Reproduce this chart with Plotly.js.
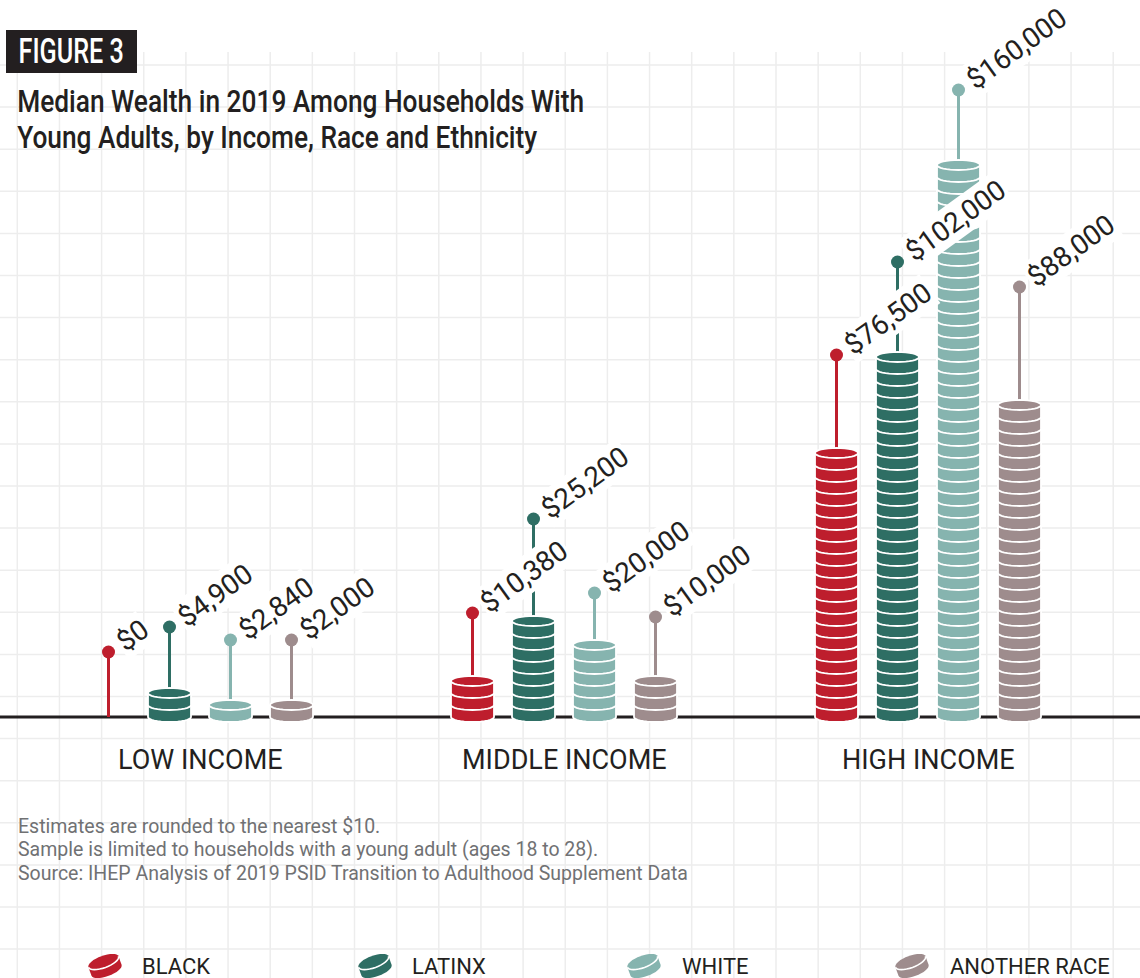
<!DOCTYPE html>
<html>
<head>
<meta charset="utf-8">
<script src="https://cdn.plot.ly/plotly-3.0.1.min.js"></script>
<style>
html, body { margin: 0; padding: 0; background: #ffffff; }
#chart { width: 1140px; height: 978px; }
</style>
</head>
<body>
<div id="chart"></div>
<script>
// ================= DATA =================
const incomeGroups = ["LOW INCOME", "MIDDLE INCOME", "HIGH INCOME"];
const races = ["BLACK", "LATINX", "WHITE", "ANOTHER RACE"];
const blackWealth = [0, 10380, 76500];
const latinxWealth = [4900, 25200, 102000];
const whiteWealth = [2840, 20000, 160000];
const anotherRaceWealth = [2000, 10000, 88000];
const figureTag = "FIGURE 3";
const titleLines = [
  "Median Wealth in 2019 Among Households With",
  "Young Adults, by Income, Race and Ethnicity"
];
const footnotes = [
  "Estimates are rounded to the nearest $10.",
  "Sample is limited to households with a young adult (ages 18 to 28).",
  "Source: IHEP Analysis of 2019 PSID Transition to Adulthood Supplement Data"
];

// ================= STYLE / LAYOUT =================
const seriesValues = [blackWealth, latinxWealth, whiteWealth, anotherRaceWealth];
const raceColors = ["#BE1E2D", "#2E6E64", "#86B4AF", "#9E8C8D"];
// lollipop lift above each stack, in pixels (race x group) - label placement only
const stemLiftPx = [[65, 68, 98], [66, 102, 95], [65, 52, 75], [65, 64, 118]];

const W = 1140, H = 978;
const BASE_PX = 717;            // pixel row of the baseline
const COIN_VALUE = 3500;        // dollars represented by one coin
const COIN_PX = 12;             // coin thickness in pixels
const dPerPx = COIN_VALUE / COIN_PX;
const yRange = [-(H - BASE_PX) * dPerPx, BASE_PX * dPerPx];
const GROUP_PX = 364, X0_PX = 200;
const xRange = [-X0_PX / GROUP_PX, (W - X0_PX) / GROUP_PX];
const uPerPx = 1 / GROUP_PX;
const RACE_STEP = 61 * uPerPx;
const COIN_RX = 21.5 * uPerPx;
const COIN_RY = 5 * dPerPx;

const INK = "#231F20";
const LABEL_FONT = "Roboto, 'Open Sans', 'DejaVu Sans', sans-serif";

const px2paperX = px => px / W;
const px2paperY = py => 1 - py / H;

function arcPts(cx, cy, rx, ry, t0, t1, n) {
  const pts = [];
  for (let i = 0; i <= n; i++) {
    const t = t0 + (t1 - t0) * i / n;
    pts.push([cx + rx * Math.cos(t), cy + ry * Math.sin(t)]);
  }
  return pts;
}
function toPath(pts, close) {
  return "M" + pts.map(p => p[0].toFixed(6) + "," + p[1].toFixed(3)).join("L") + (close ? "Z" : "");
}

const shapes = [];
const annotations = [];
const traces = [];
const condensed = [];   // [annotation index, x-scale, origin]

// ---- background grid (decorative) ----
const GRID = "#EDEDED";
for (let gx = 17.3; gx < W; gx += 42.15) {
  shapes.push({type: "line", xref: "paper", yref: "paper", x0: px2paperX(gx), x1: px2paperX(gx),
    y0: px2paperY(52), y1: 0, line: {color: GRID, width: 1.5}, layer: "below"});
}
for (let gy = 65; gy < H; gy += 42.1) {
  shapes.push({type: "line", xref: "paper", yref: "paper", x0: 0, x1: 1,
    y0: px2paperY(gy), y1: px2paperY(gy), line: {color: GRID, width: 1.5}, layer: "below"});
}

// ---- baseline ----
shapes.push({type: "line", xref: "paper", yref: "y", x0: 0, x1: 1, y0: 0, y1: 0,
  line: {color: INK, width: 3}, layer: "below"});

// ---- stacks, stems, dots, labels ----
const coinCount = v => Math.ceil(v / COIN_VALUE);

seriesValues.forEach((vals, ri) => {
  const color = raceColors[ri];
  const xs = incomeGroups.map((g, gi) => gi + (ri - 1.5) * RACE_STEP);
  const tops = vals.map(v => coinCount(v) * COIN_VALUE);
  const dots = tops.map((t, gi) => t + stemLiftPx[ri][gi] * dPerPx);

  // stack body as bars
  traces.push({
    type: "bar", name: races[ri], x: xs, y: tops, base: 0,
    width: COIN_RX * 2 * 0.88, marker: {color: color, line: {width: 0}},
    customdata: vals, hovertemplate: races[ri] + ": $%{customdata:,}<extra></extra>",
    showlegend: false
  });

  // stems
  const sx = [], sy = [];
  xs.forEach((x, gi) => { sx.push(x, x, null); sy.push(tops[gi], dots[gi], null); });
  traces.push({type: "scatter", mode: "lines", x: sx, y: sy, line: {color: color, width: 3},
    hoverinfo: "skip", showlegend: false});
  // dots
  traces.push({type: "scatter", mode: "markers", x: xs, y: dots,
    marker: {color: color, size: 13, line: {width: 0}}, customdata: vals,
    hovertemplate: races[ri] + ": $%{customdata:,}<extra></extra>", showlegend: false});

  // coins as shapes
  xs.forEach((cx, gi) => {
    const n = coinCount(vals[gi]);
    for (let c = 0; c < n; c++) {
      const yb = c * COIN_VALUE, yt = (c + 1) * COIN_VALUE;
      const pts = arcPts(cx, yt, COIN_RX, COIN_RY, Math.PI, 0, 16)
        .concat(arcPts(cx, yb, COIN_RX, COIN_RY, 0, -Math.PI, 16));
      shapes.push({type: "path", xref: "x", yref: "y", path: toPath(pts, true),
        fillcolor: color, line: {color: "#FFFFFF", width: 1.8}, layer: "above"});
      if (c === n - 1) {
        shapes.push({type: "path", xref: "x", yref: "y",
          path: toPath(arcPts(cx, yt, COIN_RX, COIN_RY, Math.PI, 2 * Math.PI, 16), false),
          fillcolor: "rgba(0,0,0,0)", line: {color: "#FFFFFF", width: 1.8}, layer: "above"});
      }
    }
    // value label
    annotations.push({
      x: cx, y: dots[gi], xref: "x", yref: "y", showarrow: false,
      text: "$" + vals[gi].toLocaleString("en-US"),
      textangle: -36, xanchor: "left", yanchor: "bottom", xshift: -1, yshift: -9,
      font: {family: LABEL_FONT, size: 28, color: INK}, bgcolor: "#FFFFFF", borderpad: 1
    });
  });
});

// ---- category labels ----
incomeGroups.forEach((g, gi) => {
  annotations.push({x: gi, y: px2paperY(760), xref: "x", yref: "paper", text: g, showarrow: false,
    xanchor: "center", yanchor: "middle", font: {family: LABEL_FONT, size: 27, color: INK}});
});

// ---- figure tag + title ----
shapes.push({type: "rect", xref: "paper", yref: "paper", x0: px2paperX(6), x1: px2paperX(137),
  y0: px2paperY(30), y1: px2paperY(73), fillcolor: INK, line: {width: 0}, layer: "above"});
condensed.push([annotations.length, 0.70, "center center"]);
annotations.push({x: px2paperX(71), y: px2paperY(51), xref: "paper", yref: "paper", text: figureTag,
  showarrow: false, xanchor: "center", yanchor: "middle",
  font: {family: LABEL_FONT, size: 36, weight: 500, color: "#FFFFFF"}});
titleLines.forEach((t, i) => {
  condensed.push([annotations.length, 0.835, "left center"]);
  annotations.push({x: px2paperX(15), y: px2paperY(101 + i * 36.5), xref: "paper", yref: "paper", text: t,
    showarrow: false, xanchor: "left", yanchor: "middle",
    font: {family: LABEL_FONT, size: 31.5, weight: 500, color: INK}});
});

// ---- footnotes ----
footnotes.forEach((t, i) => {
  annotations.push({x: px2paperX(16), y: px2paperY(826 + i * 23.5), xref: "paper", yref: "paper", text: t,
    showarrow: false, xanchor: "left", yanchor: "middle", font: {family: LABEL_FONT, size: 19.5, color: "#707173"}});
});

// ---- custom legend (coin icons) ----
const legendIconX = [105, 375, 644, 912];
const legendTextX = [140, 410, 680, 948];
const LEG_Y = 966;
function rotPts(pts, cx, cy, deg) {
  const a = deg * Math.PI / 180, c = Math.cos(a), s = Math.sin(a);
  return pts.map(p => [cx + p[0] * c - p[1] * s, cy + p[0] * s + p[1] * c]);
}
function paperPath(pts, close) {
  return "M" + pts.map(p => px2paperX(p[0]).toFixed(5) + "," + px2paperY(p[1]).toFixed(5)).join("L") + (close ? "Z" : "");
}
races.forEach((r, ri) => {
  const rx = 16, ry = 6, t = 9;
  const top = [], bot = [], front = [];
  for (let i = 0; i <= 16; i++) {
    const a = Math.PI - Math.PI * i / 16;
    top.push([rx * Math.cos(a), -t / 2 - ry * Math.sin(a)]);
  }
  for (let i = 0; i <= 16; i++) {
    const a = Math.PI * i / 16;
    bot.push([rx * Math.cos(a), t / 2 + ry * Math.sin(a)]);
    front.push([-rx * Math.cos(a), -t / 2 + ry * Math.sin(a)]);
  }
  const body = rotPts(top.concat(bot), legendIconX[ri], LEG_Y, -20);
  shapes.push({type: "path", xref: "paper", yref: "paper", path: paperPath(body, true),
    fillcolor: raceColors[ri], line: {width: 0}, layer: "above"});
  shapes.push({type: "path", xref: "paper", yref: "paper",
    path: paperPath(rotPts(front, legendIconX[ri], LEG_Y, -20), false),
    fillcolor: "rgba(0,0,0,0)", line: {color: "#FFFFFF", width: 1.6}, layer: "above"});
  annotations.push({x: px2paperX(legendTextX[ri]), y: px2paperY(LEG_Y), xref: "paper", yref: "paper",
    text: r, showarrow: false, xanchor: "left", yanchor: "middle",
    font: {family: LABEL_FONT, size: 22, color: INK}});
});

const layout = {
  width: W, height: H,
  margin: {l: 0, r: 0, t: 0, b: 0, pad: 0},
  paper_bgcolor: "#FFFFFF", plot_bgcolor: "rgba(0,0,0,0)",
  showlegend: false, barmode: "overlay",
  xaxis: {range: xRange, domain: [0, 1], visible: false, fixedrange: true},
  yaxis: {range: yRange, domain: [0, 1], visible: false, fixedrange: true},
  shapes: shapes, annotations: annotations
};

Plotly.newPlot("chart", traces, layout, {displayModeBar: false, staticPlot: true}).then(gd => {
  // emulate the condensed display face of the original for the header texts
  condensed.forEach(([idx, sx, origin]) => {
    const el = gd.querySelector('g.annotation[data-index="' + idx + '"] text.annotation-text');
    if (el) {
      el.style.transformBox = "fill-box";
      el.style.transformOrigin = origin;
      el.style.transform = "scaleX(" + sx + ")";
    }
  });
});
</script>
</body>
</html>
